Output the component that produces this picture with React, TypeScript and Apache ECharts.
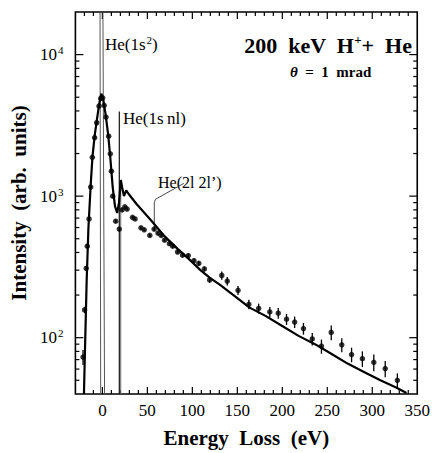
import React, { useEffect, useRef } from 'react';
import * as echarts from 'echarts';

const X_MIN = -30;
const X_MAX = 350;
const Y_MIN = 40;
const Y_MAX = 20000;

// experimental points (energy loss eV, intensity, +/- error)
const expX = [-21.5, -19.8, -18, -16.8, -14.8, -13, -11.2, -8.6, -6.3, -3.8, -1.8, 0.3, 2, 4, 7, 8.8, 10, 11.5, 14.8, 18.8,
  22, 25, 27.5, 33.5, 36.3, 42.9, 46.5, 52.7, 57.5, 61.8, 65.4, 69.1, 74.5, 78.2, 83.6, 89.1, 95.5, 101.8, 107.2, 113.4,
  119.2, 132.7, 138.8, 150.8, 162.8, 173.7, 186.1, 195.5, 204.7, 213.7, 223.5, 233.3, 243.5, 254.4, 266.1, 277, 289, 301.7, 314.4, 327.9];
const expY = [73, 157, 309, 443, 690, 1160, 1880, 2590, 3300, 4330, 4900, 4950, 4370, 3620, 2650, 1990, 1500, 1000, 665, 585,
  800, 840, 810, 708, 690, 597, 578, 528, 585, 548, 528, 488, 461, 443, 403, 383, 380, 350, 335, 306,
  256, 275, 251, 216, 172, 161, 152, 149, 135, 129, 116, 98, 87, 109, 89, 76, 71, 67, 60.5, 50];
const expErr = [9, 8, 12, 16, 22, 30, 45, 60, 70, 90, 100, 100, 90, 75, 60, 45, 35, 25, 18, 16,
  20, 20, 20, 18, 18, 15, 15, 14, 15, 14, 14, 13, 13, 13, 12, 12, 12, 12, 12, 12,
  12, 18, 17, 16, 13, 13, 13, 13, 12, 12, 11, 10, 10, 13, 10, 9, 9, 9, 8, 6];

// calculated curve
const theoryX = [-20.5, -19.5, -17.5, -15.5, -13, -11, -8.5, -6, -3.5, -1.2, 1, 3.5, 6.5, 9, 11.5, 14, 16.4, 18.5, 20.5, 22, 24,
  26.5, 29, 38.2, 54.5, 69, 83.6, 98.1, 109, 119.2, 130.8, 145.3, 163.6, 181.8, 199.9, 218.1, 236.3, 254.4, 272.6, 290.8, 309, 327.1, 338];
const theoryY = [40, 75, 250, 600, 1200, 1900, 2700, 3500, 4500, 5300, 4800, 3800, 2700, 1800, 1150, 850, 760, 900, 1300, 1150, 1000,
  1100, 1040, 877, 671, 522, 424, 350, 300, 266, 236, 201, 163, 142, 121, 103, 90, 77, 65.6, 57.3, 50, 44.3, 40.6];

// marker lines for the transitions
const line1s2A = [[-2.6, 20000], [-1.9, 40]];
const line1s2B = [[0.6, 20000], [2.4, 40]];
const line1snlA = [[18.8, 3960], [18.8, 40]];
const line1snlB = [[20.4, 1300], [20.4, 40]];
const leader2l = [[57.7, 573], [57.7, 900], [59, 950], [90.5, 1230]];

const SERIF = "'Liberation Serif', 'DejaVu Serif', 'Times New Roman', serif";

function buildXTicks() {
  const out: number[][] = [];
  for (let v = X_MIN + 10; v < X_MAX; v += 10) out.push([v, Y_MIN, v % 50 === 0 ? 7 : 4]);
  return out;
}
function buildYTicks() {
  const out: number[][] = [];
  for (const d of [10, 100, 1000, 10000]) {
    for (let m = 1; m <= 9; m++) {
      const v = m * d;
      if (v > Y_MIN && v < Y_MAX) out.push([X_MIN, v, m === 1 ? 8 : 4]);
    }
  }
  return out;
}

export default function App() {
  const ref = useRef<HTMLDivElement>(null);
  useEffect(() => {
    document.body.style.margin = '0';
    const chart = echarts.init(ref.current!, null, { renderer: 'svg' });
    const tickStyle = { stroke: '#000', lineWidth: 1.2 };
    const blackLine = (data: number[][], width: number, color = '#000') => ({
      type: 'line', data, symbol: 'none', silent: true, lineStyle: { color, width }, z: 3,
    });
    chart.setOption({
      animation: false,
      grid: { left: 73, top: 12, right: 12, bottom: 55, show: true, borderColor: '#000', borderWidth: 1.6, backgroundColor: 'transparent' },
      xAxis: {
        type: 'value', min: X_MIN, max: X_MAX, interval: 10,
        axisLine: { show: false }, axisTick: { show: false }, splitLine: { show: false },
        axisLabel: {
          color: '#000', fontFamily: SERIF, fontSize: 17, margin: 8,
          formatter: (v: number) => (v >= 0 && Math.round(v) % 50 === 0 ? String(Math.round(v)) : ''),
        },
        name: 'Energy  Loss  (eV)', nameLocation: 'middle', nameGap: 33,
        nameTextStyle: { color: '#000', fontFamily: SERIF, fontSize: 21, fontWeight: 'bold' },
      },
      yAxis: {
        type: 'log', logBase: 10, min: Y_MIN, max: Y_MAX,
        axisLine: { show: false }, axisTick: { show: false }, splitLine: { show: false },
        axisLabel: {
          color: '#000', margin: 12,
          formatter: (v: number) => {
            const e = Math.log10(v);
            const r = Math.round(e);
            if (Math.abs(e - r) < 1e-6 && r >= 2 && r <= 4) return `{b|10}{s|${r}}`;
            return '';
          },
          rich: {
            b: { fontFamily: SERIF, fontSize: 17, color: '#000' },
            s: { fontFamily: SERIF, fontSize: 11, color: '#000', verticalAlign: 'top', padding: [0, 0, 9, 1] },
          },
        },
        name: 'Intensity  (arb.  units)', nameLocation: 'middle', nameGap: 40,
        nameTextStyle: { color: '#000', fontFamily: SERIF, fontSize: 21, fontWeight: 'bold' },
      },
      series: [
        {
          type: 'custom', silent: true, clip: false, data: buildXTicks(),
          renderItem: (_p: any, api: any) => {
            const v = api.value(0), len = api.value(2);
            const b = api.coord([v, Y_MIN]);
            const t = api.coord([v, Y_MAX]);
            return {
              type: 'group', children: [
                { type: 'line', shape: { x1: b[0], y1: b[1], x2: b[0], y2: b[1] - len }, style: tickStyle },
                { type: 'line', shape: { x1: t[0], y1: t[1], x2: t[0], y2: t[1] + len }, style: tickStyle },
              ],
            };
          },
        },
        {
          type: 'custom', silent: true, clip: false, data: buildYTicks(),
          renderItem: (_p: any, api: any) => {
            const v = api.value(1), len = api.value(2);
            const l = api.coord([X_MIN, v]);
            const r = api.coord([X_MAX, v]);
            return {
              type: 'group', children: [
                { type: 'line', shape: { x1: l[0], y1: l[1], x2: l[0] + len, y2: l[1] }, style: tickStyle },
                { type: 'line', shape: { x1: r[0], y1: r[1], x2: r[0] - len, y2: r[1] }, style: tickStyle },
              ],
            };
          },
        },
        blackLine(line1s2A, 1, '#555'),
        blackLine(line1s2B, 1, '#555'),
        blackLine(line1snlA, 1.2, '#111'),
        blackLine(line1snlB, 1, '#666'),
        blackLine(leader2l, 0.9, '#333'),
        {
          type: 'line', data: theoryX.map((x, i) => [x, theoryY[i]]), symbol: 'none', silent: true,
          lineStyle: { color: '#000', width: 2.2 }, z: 4,
        },
        {
          type: 'custom', silent: true, z: 5,
          data: expX.map((x, i) => [x, expY[i], expErr[i]]),
          renderItem: (_p: any, api: any) => {
            const x = api.value(0), y = api.value(1), e = api.value(2);
            const lo = api.coord([x, y - e]);
            const hi = api.coord([x, y + e]);
            return { type: 'line', shape: { x1: lo[0], y1: lo[1], x2: hi[0], y2: hi[1] }, style: { stroke: '#000', lineWidth: 1.3 } };
          },
        },
        {
          type: 'scatter', data: expX.map((x, i) => [x, expY[i]]), symbol: 'circle', symbolSize: 5.5,
          itemStyle: { color: '#000' }, silent: true, z: 6,
        },
      ],
      graphic: [
        { type: 'text', right: 21, top: 33, style: { text: '200  keV  H{s|+}+  He', rich: { s: { fontSize: 13, fontWeight: 'bold', fontFamily: SERIF, verticalAlign: 'top', padding: [0, 0, 11, 0], fill: '#000' } }, font: `bold 22px ${SERIF}`, fill: '#000' } },
        { type: 'text', left: 290, top: 64, style: { text: '{t|θ}  =  1  mrad', rich: { t: { fontStyle: 'italic', fontWeight: 'bold', fontSize: 15, fontFamily: SERIF, fill: '#000' } }, font: `bold 15px ${SERIF}`, fill: '#000' } },
        { type: 'text', left: 105, top: 34, style: { text: 'He(1s{s|2})', rich: { s: { fontSize: 11, fontFamily: SERIF, verticalAlign: 'top', padding: [0, 0, 9, 1], fill: '#000' } }, font: `17px ${SERIF}`, fill: '#000' } },
        { type: 'text', left: 123, top: 110, style: { text: 'He(1s\u2009nl)', font: `17px ${SERIF}`, fill: '#000' } },
        { type: 'text', left: 158, top: 174, style: { text: 'He(2l 2l’)', font: `16px ${SERIF}`, fill: '#000' } },
      ],
    });
    return () => chart.dispose();
  }, []);
  return <div ref={ref} style={{ width: 433, height: 453 }} />;
}
